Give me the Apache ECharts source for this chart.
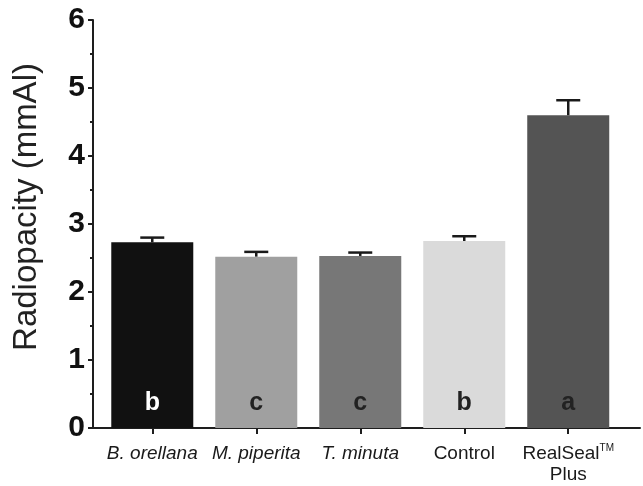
<!DOCTYPE html>
<html>
<head>
<meta charset="utf-8">
<script src="https://cdn.jsdelivr.net/npm/echarts@6/dist/echarts.min.js"></script>
<style>html,body{margin:0;padding:0;background:#fff}#c{width:643px;height:486px}</style>
</head>
<body>
<div id="c"></div>
<script>
const categories = ['B. orellana', 'M. piperita', 'T. minuta', 'Control', 'RealSeal Plus'];
const italicCats = [true, true, true, false, false];
const means = [2.73, 2.52, 2.53, 2.75, 4.60];
const errors = [0.07, 0.07, 0.05, 0.07, 0.22];
const letters = ['b', 'c', 'c', 'b', 'a'];
const barColors = ['#111111', '#a0a0a0', '#777777', '#dadada', '#545454'];
const letterColors = ['#ffffff', '#222222', '#222222', '#222222', '#222222'];
const yTicks = [0, 1, 2, 3, 4, 5, 6];

const positions = categories.map((c, i) => i);
const axisColor = '#1e1e1e';
const font = 'Liberation Sans, Arial, Helvetica, sans-serif';

const chart = echarts.init(document.getElementById('c'));
chart.setOption({
  animation: false,
  grid: { left: 93, right: 3, top: 20, bottom: 58 },
  xAxis: {
    type: 'value',
    min: -0.57,
    max: 4.69,
    splitLine: { show: false },
    axisLine: { show: true, onZero: false, lineStyle: { color: axisColor, width: 2 } },
    axisTick: { show: true, length: 6, lineStyle: { color: axisColor, width: 2 }, customValues: positions },
    axisLabel: {
      customValues: positions,
      margin: 15,
      color: '#1a1a1a',
      fontFamily: font,
      fontSize: 19,
      lineHeight: 21,
      formatter: function (v) {
        const i = Math.round(v);
        if (i === 4) return '{n|RealSeal}{sup|TM}\n{n|Plus}';
        return italicCats[i] ? '{it|' + categories[i] + '}' : '{n|' + categories[i] + '}';
      },
      rich: {
        it: { fontStyle: 'italic', fontSize: 19, fontFamily: font, color: '#1a1a1a', lineHeight: 21 },
        n: { fontSize: 19, fontFamily: font, color: '#1a1a1a', lineHeight: 21 },
        sup: { fontSize: 10, fontFamily: font, color: '#1a1a1a', padding: [0, 0, 10, 0] }
      }
    }
  },
  yAxis: {
    type: 'value',
    min: 0,
    max: 6,
    interval: 1,
    name: 'Radiopacity (mmAl)',
    nameLocation: 'middle',
    nameGap: 50,
    nameTextStyle: { fontSize: 33, fontFamily: font, color: '#222', padding: [0, 0, 0, 34] },
    splitLine: { show: false },
    axisLine: { show: true, onZero: false, lineStyle: { color: axisColor, width: 2 } },
    axisTick: { show: true, length: 5, lineStyle: { color: axisColor, width: 2 } },
    minorTick: { show: true, splitNumber: 2, length: 3, lineStyle: { color: axisColor, width: 2 } },
    axisLabel: { margin: 8, fontSize: 30, fontWeight: 'bold', fontFamily: font, color: '#111' }
  },
  series: [
    {
      type: 'bar',
      barWidth: 82,
      data: means.map((v, i) => ({
        value: [positions[i], v],
        itemStyle: { color: barColors[i] },
        label: { color: letterColors[i] }
      })),
      label: {
        show: true,
        position: 'insideBottom',
        distance: 12,
        fontSize: 25,
        fontWeight: 'bold',
        fontFamily: font,
        formatter: p => letters[p.dataIndex]
      }
    },
    {
      type: 'custom',
      data: means.map((v, i) => [positions[i], v, v + errors[i]]),
      renderItem: function (params, api) {
        const base = api.coord([api.value(0), api.value(1)]);
        const top = api.coord([api.value(0), api.value(2)]);
        const hw = 12;
        const st = { stroke: '#1a1a1a', lineWidth: 2.5 };
        return {
          type: 'group',
          children: [
            { type: 'line', shape: { x1: base[0], y1: base[1], x2: top[0], y2: top[1] }, style: st },
            { type: 'line', shape: { x1: top[0] - hw, y1: top[1], x2: top[0] + hw, y2: top[1] }, style: st }
          ]
        };
      },
      z: 3
    }
  ]
});
</script>
</body>
</html>
